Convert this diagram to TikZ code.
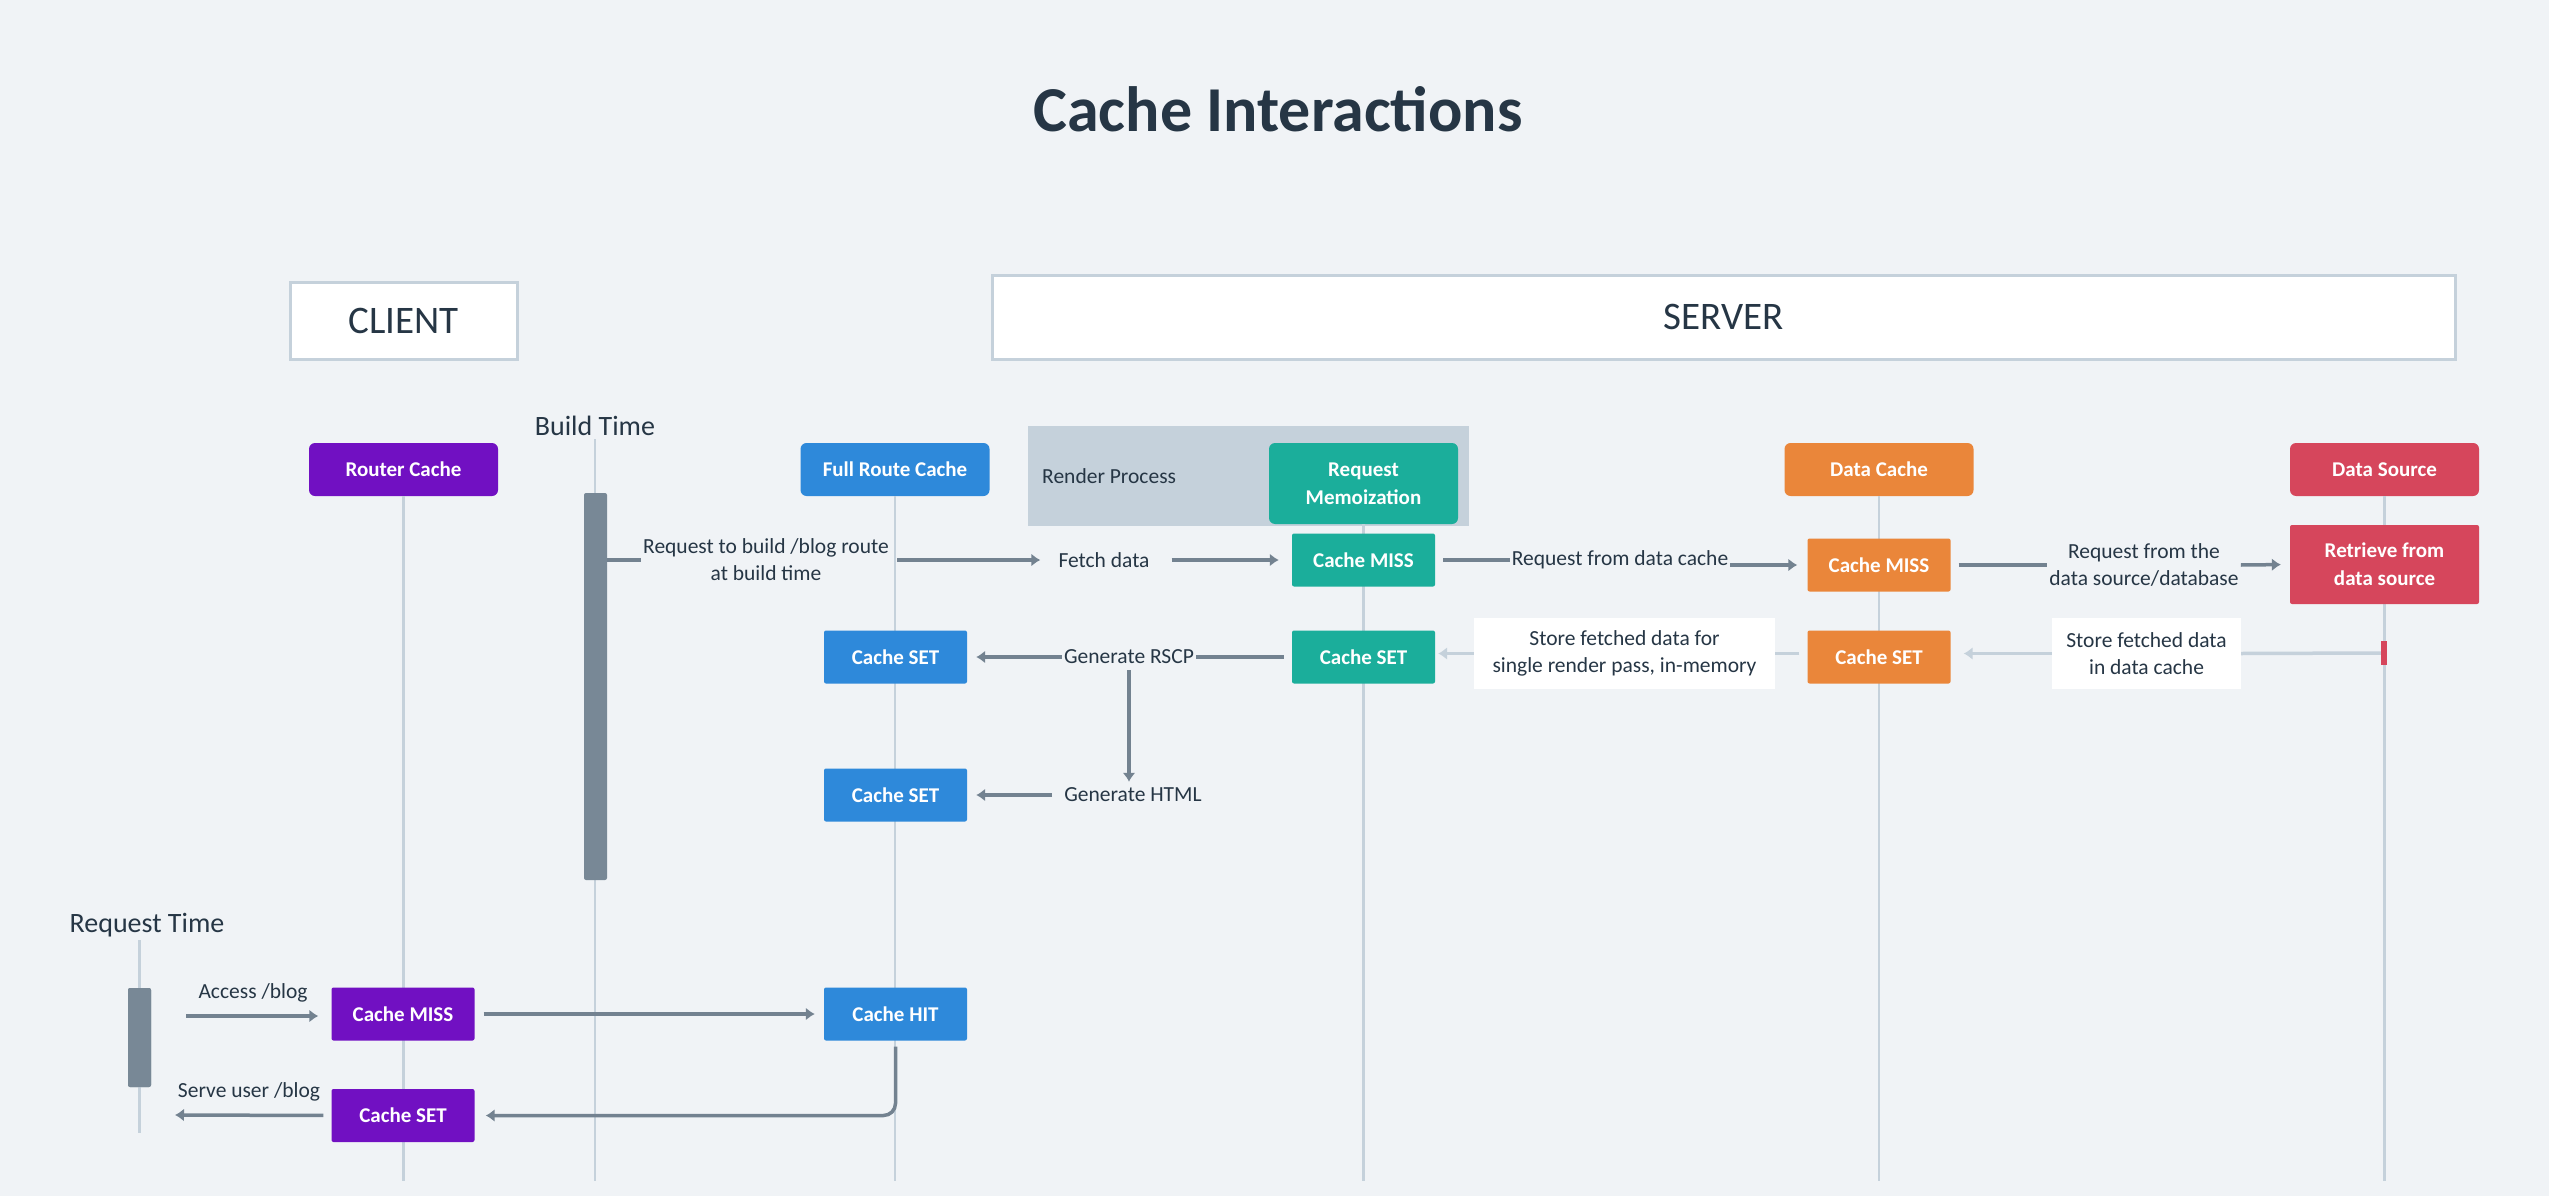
\documentclass[tikz,border=0pt]{standalone}
\usepackage{fontspec}
\setmainfont{Carlito}
\usetikzlibrary{arrows.meta}

\definecolor{bgc}{HTML}{F0F3F6}
\definecolor{ink}{HTML}{263645}
\definecolor{purp}{HTML}{7110C2}
\definecolor{blu}{HTML}{2E89DA}
\definecolor{tea}{HTML}{1BAE9B}
\definecolor{ora}{HTML}{EA863A}
\definecolor{rd}{HTML}{D6465C}
\definecolor{lane}{HTML}{C5D1DB}
\definecolor{barc}{HTML}{788896}
\definecolor{arr}{HTML}{738290}

\tikzset{
    txt/.style={text=ink, font=\fontsize{21.5}{27}\selectfont, align=center, inner sep=2pt},
    big/.style={text=ink, font=\fontsize{28}{30}\selectfont},
    side/.style={draw=lane, line width=3pt, fill=white, text=ink, font=\fontsize{39}{40}\selectfont},
    hdr/.style={rounded corners=6pt, text=white, font=\bfseries\fontsize{21}{28}\selectfont,
        align=center, minimum width=189pt, minimum height=53pt},
    act/.style={hdr, rounded corners=2pt, minimum width=143pt},
    note/.style={txt, fill=white},
    bar/.style={fill=barc, rounded corners=2pt, minimum width=23pt, inner sep=0pt},
    life/.style={draw=lane, line width=2.5pt},
    line/.style={draw=arr, line width=3.5pt},
    msg/.style={line, -{Latex[length=9pt,width=13pt]}, shorten >=10pt, shorten <=8pt},
    faint/.style={draw=lane, line width=3.5pt},
}

\begin{document}
\begin{tikzpicture}[x=1pt,y=-1pt]
    \fill[bgc] (0,0) rectangle (2549,1196);
    \useasboundingbox (0,0) rectangle (2549,1196);

    \node[text=ink, font=\bfseries\fontsize{64}{70}\selectfont] (ttl) at (1278,109) {Cache Interactions};
    \node[side, minimum width=227pt, minimum height=77pt] (cl) at (403.5,320.5) {CLIENT};
    \node[side, minimum width=1463pt, minimum height=84pt] (sv) at (1723.5,317) {SERVER};

    \node[fill=lane, minimum width=441pt, minimum height=100pt] (rp) at (1248.5,476) {};
    \node[txt, anchor=west] (rpl) at (1040,476) {Render Process};

    % lanes
    \node[hdr, fill=purp] (rc)  at (403.5,469.5) {Router Cache};
    \node[hdr, fill=blu]  (frc) at (895,469.5)   {Full Route Cache};
    \node[hdr, fill=tea, minimum height=81pt] (rm) at (1363.5,483.5) {Request\\Memoization};
    \node[hdr, fill=ora]  (dc)  at (1879,469.5)  {Data Cache};
    \node[hdr, fill=rd]   (ds)  at (2384.5,469.5) {Data Source};
    \node[big] (bt) at (595,426) {Build Time};
    \node[big] (rt) at (147,925) {Request Time};

    \coordinate (bot) at (0,1181);
    \coordinate (rtb) at (0,1133);
    \foreach \n in {rc,frc,rm,dc,ds,bt}
        \draw[life] (\n.south) -- (\n.south |- bot);

    \node[bar, minimum height=387pt] (b1) at (595.5,686.5) {};
    \node[bar, minimum height=99pt]  (b2) at (139.5,1037.5) {};
    \draw[life] (rt.south -| b2) -- (b2 |- rtb);
    \node[bar, minimum height=99pt]  at (139.5,1037.5) {};

    % activations
    \node[act, fill=tea]  (m1) at (1363.5,560) {Cache MISS};
    \node[act, fill=tea]  (t2) at (1363.5,657) {Cache SET};
    \node[act, fill=ora]  (m2) at (1879,565)   {Cache MISS};
    \node[act, fill=ora]  (o2) at (1879,657)   {Cache SET};
    \node[act, fill=rd, minimum width=189pt, minimum height=79pt] (r1) at (2384.5,564.5) {Retrieve from\\data source};
    \node[fill=rd, minimum width=6pt, minimum height=24pt, inner sep=0pt] (mk) at (2384,653) {};
    \node[act, fill=blu]  (f2) at (895.5,657)  {Cache SET};
    \node[act, fill=blu]  (f3) at (895.5,795)  {Cache SET};
    \node[act, fill=blu]  (h1) at (895.5,1014) {Cache HIT};
    \node[act, fill=purp] (p1) at (403,1014)   {Cache MISS};
    \node[act, fill=purp] (p2) at (403,1115.5) {Cache SET};

    % messages
    \node[txt] (q1) at (766,560)  {Request to build /blog route\\at build time};
    \node[txt] (fd) at (1104,560) {Fetch data};
    \node[txt] (rq) at (1620,560) {Request from data cache};
    \node[txt] (rs) at (2144,565) {Request from the\\data source/database};
    \node[note, minimum width=301pt, minimum height=71pt] (n1) at (1624.5,653.5) {Store fetched data for\\single render pass, in-memory};
    \node[note, minimum width=189pt, minimum height=71pt] (n2) at (2146.5,653.5) {Store fetched data\\in data cache};
    \node[txt] (g1) at (1129,657)  {Generate RSCP};
    \node[txt] (g2) at (1133,795)  {Generate HTML};
    \node[txt] (ab) at (253,993)   {Access /blog};
    \node[txt] (su) at (249,1092)  {Serve user /blog};
    \coordinate (c1) at (186,1016);
    \coordinate (c2) at (175,1115);

    \draw[line] (b1.east |- q1) -- (q1.west);
    \draw[msg, shorten <=6pt, shorten >=16pt] (q1.east) -- (fd.west);
    \draw[msg, shorten <=20pt, shorten >=13pt] (fd.east) -- (m1.west);
    \draw[line, shorten <=8pt] (m1.east) -- (rq.west);
    \draw[msg, shorten <=0pt] (rq.east |- m2) -- (m2.west);
    \draw[line, shorten <=8pt] (m2.east) -- (rs.west);
    \draw[msg, shorten <=0pt, shorten >=9pt] (rs.east) -- (r1.west);

    \draw[faint] (mk.west) -- (n2.east);
    \draw[faint, -{Latex[length=9pt,width=13pt]}, shorten >=13pt] (n2.west) -- (n2.west -| o2.east);
    \draw[faint, shorten <=8pt] (o2.west |- n1.east) -- (n1.east);
    \draw[faint, -{Latex[length=9pt,width=13pt]}, shorten >=3pt] (n1.west) -- (n1.west -| t2.east);
    \draw[line, shorten <=8pt] (t2.west) -- (g1.east);
    \draw[msg, shorten <=0pt, shorten >=9pt] (g1.west) -- (f2.east);
    \draw[msg, shorten <=4pt, shorten >=4pt] (g1.south) -- (g1.south |- g2.north);
    \draw[msg, shorten <=10pt, shorten >=9pt] (g2.west) -- (f3.east);

    \draw[msg, shorten <=0pt, shorten >=13pt] (c1) -- (c1 -| p1.west);
    \draw[msg, shorten <=9pt, shorten >=9pt] (p1.east) -- (h1.west);
    \draw[msg, rounded corners=12pt, shorten <=6pt, shorten >=11pt] (h1.south) |- (p2.east);
    \draw[msg, shorten >=0pt] (p2.west) -- (c2);
\end{tikzpicture}
\end{document}
